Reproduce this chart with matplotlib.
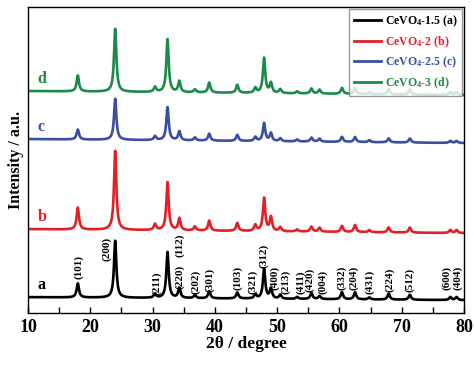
import numpy as np
import matplotlib
matplotlib.use("Agg")
import matplotlib.pyplot as plt
from matplotlib.ticker import MultipleLocator

plt.rcParams['font.family'] = ['Liberation Serif', 'DejaVu Serif']
plt.rcParams['font.weight'] = 'bold'
plt.rcParams['mathtext.fontset'] = 'custom'
plt.rcParams['mathtext.rm'] = 'Liberation Serif:bold'
plt.rcParams['mathtext.default'] = 'rm'

# peak positions (2theta, degree) shared by all samples
peaks = [18.0, 24.0, 30.4, 32.4, 34.3, 36.8, 39.1, 43.6, 46.5, 47.9, 49.0,
         50.5, 53.2, 55.5, 56.8, 60.4, 62.5, 64.8, 67.9, 71.3, 77.8, 78.8]

# peak heights (arbitrary units)
h_a = [14, 57, 4, 46, 10, 3, 7, 6, 4, 30, 10, 4, 2, 6, 3, 7, 7, 2, 6, 5, 3, 3]
h_b = [22, 79, 6, 48, 12, 4, 10, 8, 6, 33, 14, 4, 2, 5, 4, 6, 7, 2, 5, 5, 3, 3]
h_c = [10, 41, 4, 33, 9, 3, 7, 6, 4, 18, 8, 3, 2, 4, 3, 5, 5, 2, 4, 4, 2, 2]
h_d = [16, 63, 5, 53, 11, 3, 10, 8, 5, 35, 10, 4, 2, 5, 4, 6, 6, 2, 5, 5, 3, 3]

# baseline level at 10 and 80 degree for each trace
base_a = [16, 13]
base_b = [84, 80]
base_c = [174, 170]
base_d = [222, 218]

names = ['CeVO$_4$-1.5 (a)', 'CeVO$_4$-2 (b)', 'CeVO$_4$-2.5 (c)', 'CeVO$_4$-3 (d)']
letters = ['a', 'b', 'c', 'd']
colors = ['black', '#e41f26', '#3a4ea3', '#1a8b48']

# Miller indices and where their labels sit (2theta, height)
hkl = ['(101)', '(200)', '(211)', '(220)', '(112)', '(202)', '(301)', '(103)',
       '(321)', '(312)', '(400)', '(213)', '(411)', '(420)', '(004)', '(332)',
       '(204)', '(431)', '(224)', '(512)', '(600)', '(404)']
hkl_x = [18.2, 22.7, 30.7, 34.4, 34.4, 37.0, 39.2, 43.7, 46.1, 47.9, 49.6,
         51.4, 53.7, 55.3, 57.3, 60.3, 62.3, 64.9, 68.1, 71.3, 77.2, 79.0]
hkl_y = [46, 64, 30, 36, 68, 31, 33, 35, 31, 57, 35, 31, 31, 33, 31, 35,
         35, 31, 33, 33, 35, 35]

fwhm = 0.45


def pattern(x, heights, base):
    y = np.interp(x, [10, 80], base)
    g = fwhm / 2
    for p, h in zip(peaks, heights):
        y = y + h * g**2 / ((x - p)**2 + g**2)
    return y


fig = plt.figure(figsize=(4.74, 3.68), dpi=100)
ax = fig.add_axes([0.059, 0.149, 0.92, 0.832])

x = np.linspace(10, 80, 4000)
series = [(h_a, base_a), (h_b, base_b), (h_c, base_c), (h_d, base_d)]
for (h, b), name, c, let in zip(series, names, colors, letters):
    ax.plot(x, pattern(x, h, b), color=c, lw=1.9, label=name)
    ax.text(11.5, b[0] + 8, let, color=c, fontsize=11.5, fontweight='bold')

for lab, lx, ly in zip(hkl, hkl_x, hkl_y):
    ax.text(lx, ly, lab, rotation=90, ha='center', va='center',
            fontsize=8, fontweight='bold')

ax.set_xlim(10, 80)
ax.set_ylim(0, 306)
ax.set_yticks([])
ax.xaxis.set_major_locator(MultipleLocator(10))
ax.xaxis.set_minor_locator(MultipleLocator(5))
ax.tick_params(axis='x', which='both', direction='in', length=4, width=1,
               labelsize=13, pad=4)
for lbl in ax.get_xticklabels():
    lbl.set_fontweight('bold')
for s in ax.spines.values():
    s.set_linewidth(1.0)

ax.set_xlabel('2θ / degree', fontsize=12.5, fontweight='bold', labelpad=0)
ax.set_ylabel('Intensity / a.u.', fontsize=11.5, fontweight='bold', labelpad=3)

leg = ax.legend(loc='upper right', fontsize=8.5, frameon=True, fancybox=False,
                edgecolor='gray', handlelength=2.3, handletextpad=0.3,
                borderpad=0.4, labelspacing=0.45, borderaxespad=0.15)
leg.get_frame().set_linewidth(1.0)
for t, c in zip(leg.get_texts(), colors):
    t.set_color(c)
for l in leg.get_lines():
    l.set_linewidth(2)

fig.savefig('out.png', dpi=100)
